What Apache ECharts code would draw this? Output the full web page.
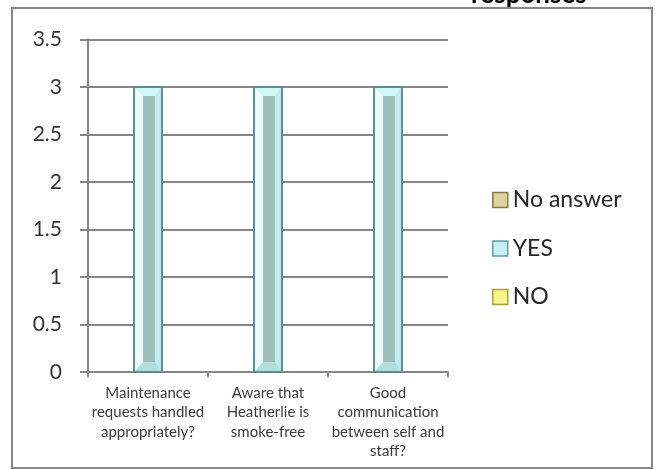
<!DOCTYPE html>
<html>
<head>
<meta charset="utf-8">
<script src="https://cdn.jsdelivr.net/npm/echarts@6/dist/echarts.min.js"></script>
<style>
  html, body { margin: 0; padding: 0; background: #ffffff; }
  #chart { width: 658px; height: 470px; }
</style>
</head>
<body>
<div id="chart"></div>
<script>
// Survey answers per question
const categories = [
  'Maintenance\nrequests handled\nappropriately?',
  'Aware that\nHeatherlie is\nsmoke-free',
  'Good\ncommunication\nbetween self and\nstaff?'
];
const noAnswer = [0, 0, 0];
const yes = [3, 3, 3];
const no = [0, 0, 0];
const yTicks = { min: 0, max: 3.5, interval: 0.5 };

const FONT = 'Lato, "Open Sans", sans-serif';
const BAR_FRACTION = 0.233;

// Bevelled column face drawn over each YES bar
function bevelColumn(params, api) {
  const idx = api.value(0);
  const v = api.value(1);
  const top = api.coord([idx, v]);
  const bot = api.coord([idx, 0]);
  const half = api.size([1, 0])[0] * BAR_FRACTION / 2;
  const x0 = top[0] - half, x1 = top[0] + half;
  const y0 = top[1], y1 = bot[1];
  const dT = 9, dL = 9, dR = 7, dB = 10;
  const poly = (pts, fill) => ({ type: 'polygon', shape: { points: pts }, style: { fill: fill } });
  return {
    type: 'group',
    children: [
      { type: 'rect', shape: { x: x0, y: y0, width: x1 - x0, height: y1 - y0 }, style: { fill: '#c9f3f3' } },
      poly([[x0, y0], [x1, y0], [x1 - dR, y0 + dT], [x0 + dL, y0 + dT]], '#d2f7f7'),
      poly([[x0, y0], [x0 + dL, y0 + dT], [x0 + dL, y1 - dB], [x0, y1]], '#edfdfd'),
      poly([[x1, y0], [x1, y1], [x1 - dR, y1 - dB], [x1 - dR, y0 + dT]], '#c2ecec'),
      poly([[x0, y1], [x0 + dL, y1 - dB], [x1 - dR, y1 - dB], [x1, y1]], '#b2dfdb'),
      { type: 'rect', shape: { x: x0 + dL, y: y0 + dT, width: x1 - x0 - dL - dR, height: y1 - y0 - dT - dB }, style: { fill: '#9cbfba' } },
      { type: 'rect', shape: { x: x0, y: y0, width: x1 - x0, height: y1 - y0 }, style: { fill: null, stroke: '#5f8c8c', lineWidth: 2 } }
    ]
  };
}

const chart = echarts.init(document.getElementById('chart'), null, { renderer: 'canvas' });
chart.setOption({
  animation: false,
  backgroundColor: '#ffffff',
  title: {
    text: 'responses',
    left: 466,
    top: -23,
    textStyle: { fontFamily: FONT, fontSize: 26, fontWeight: 'bold', color: '#000000' }
  },
  graphic: [{
    type: 'rect',
    shape: { x: 12, y: 8, width: 640, height: 460 },
    style: { fill: null, stroke: '#878787', lineWidth: 2 },
    z: -1
  }],
  legend: {
    orient: 'vertical',
    left: 487,
    top: 183,
    itemWidth: 15,
    itemHeight: 15,
    itemGap: 24.5,
    textStyle: { fontFamily: FONT, fontSize: 23, lineHeight: 24, color: '#262626' },
    data: [
      { name: 'No answer', icon: 'rect', itemStyle: { color: '#d9d49d', borderColor: '#837b4a', borderWidth: 1.5 } },
      { name: 'YES', icon: 'rect', itemStyle: { color: '#c8f0f0', borderColor: '#6b9b9b', borderWidth: 1.5 } },
      { name: 'NO', icon: 'rect', itemStyle: { color: '#f6f38b', borderColor: '#a5a23f', borderWidth: 1.5 } }
    ]
  },
  grid: { left: 88, right: 210, top: 39.5, bottom: 98, containLabel: false },
  xAxis: {
    type: 'category',
    data: categories,
    axisLine: { show: true, lineStyle: { color: '#868686', width: 2 } },
    axisTick: { show: true, length: 5, alignWithLabel: false, lineStyle: { color: '#868686', width: 2 } },
    axisLabel: { interval: 0, margin: 11, fontFamily: FONT, fontSize: 15, lineHeight: 19.5, color: '#3a3a3a' },
    splitLine: { show: false }
  },
  yAxis: {
    type: 'value',
    min: yTicks.min,
    max: yTicks.max,
    interval: yTicks.interval,
    axisLine: { show: true, lineStyle: { color: '#868686', width: 2 } },
    axisTick: { show: true, length: 8, lineStyle: { color: '#868686', width: 2 } },
    axisLabel: { margin: 26, fontFamily: FONT, fontSize: 21, color: '#333333' },
    splitLine: { show: true, lineStyle: { color: '#868686', width: 2 } }
  },
  series: [
    { name: 'No answer', type: 'bar', data: noAnswer, barWidth: '23.3%', barGap: '-100%',
      itemStyle: { color: '#d9d49d', borderWidth: 0 } },
    { name: 'YES', type: 'bar', data: yes, barWidth: '23.3%', barGap: '-100%',
      itemStyle: { color: '#c9f3f3', borderColor: '#5f8c8c', borderWidth: 2 } },
    { name: 'NO', type: 'bar', data: no, barWidth: '23.3%', barGap: '-100%',
      itemStyle: { color: '#f6f38b', borderWidth: 0 } },
    { name: 'YES bevel', type: 'custom', silent: true, z: 3,
      data: yes.map((v, i) => [i, v]),
      encode: { x: 0, y: 1 },
      renderItem: bevelColumn }
  ]
});
</script>
</body>
</html>
